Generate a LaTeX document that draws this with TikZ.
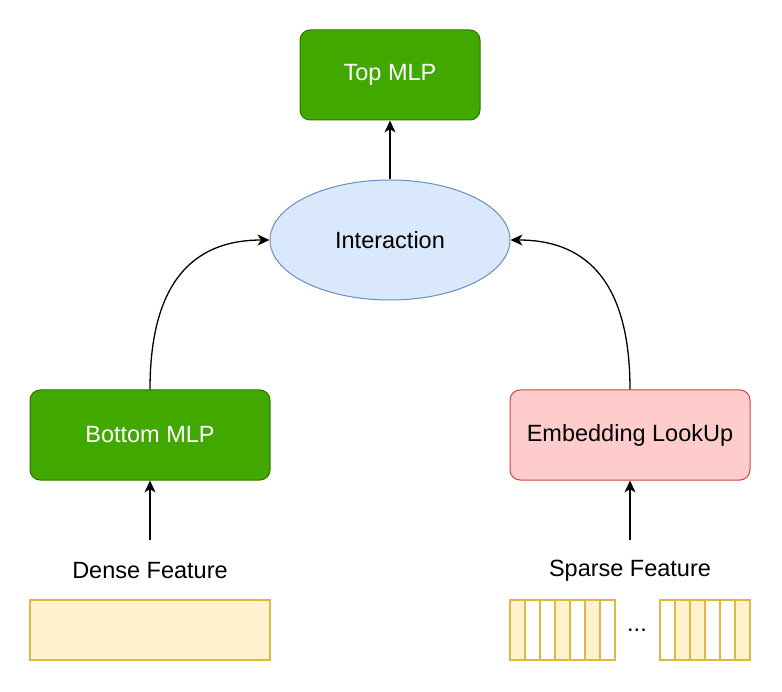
\documentclass[tikz,border=0pt]{standalone}
\usepackage{fontspec}
\setmainfont{Liberation Sans}
\usetikzlibrary{shapes.geometric,arrows.meta}
\definecolor{gfill}{HTML}{41A800}
\definecolor{gdraw}{HTML}{2D7600}
\definecolor{bfill}{HTML}{DAE8FC}
\definecolor{bdraw}{HTML}{6C8EBF}
\definecolor{rfill}{HTML}{FFCCCC}
\definecolor{rdraw}{HTML}{D04545}
\definecolor{yfill}{HTML}{FFF2CC}
\definecolor{ydraw}{HTML}{E0B840}
\begin{document}
\begin{tikzpicture}[x=1pt,y=-1pt,
  every node/.style={font=\fontsize{23.5}{27}\selectfont},
  greenbox/.style={draw=gdraw,fill=gfill,rounded corners=10pt,minimum width=240pt,minimum height=90pt,text=white,line width=1pt},
  conn/.style={line width=1.3pt,-{Stealth[length=12pt,width=11pt,inset=3.5pt]}},
  cellfill/.style={draw=ydraw,fill=yfill,line width=1.3pt},
  cellwhite/.style={draw=ydraw,fill=white,line width=1.3pt}]
\useasboundingbox (0,0) rectangle (782,692);
\node[greenbox,minimum width=180pt] (top) at (390,75) {Top MLP};
\node[ellipse,draw=bdraw,fill=bfill,minimum width=240pt,minimum height=120pt,line width=1pt] (inter) at (390,240) {Interaction};
\node[greenbox] (bot) at (150,435) {Bottom MLP};
\node[draw=rdraw,fill=rfill,rounded corners=10pt,minimum width=240pt,minimum height=90pt,line width=1pt] (emb) at (630,435) {Embedding LookUp};
\node (dense) at (150,571) {Dense Feature};
\node (sparse) at (630,571) {Sparse Feature};
\coordinate (dsrc) at (150,540);
\coordinate (ssrc) at (630,540);
\node[cellfill,minimum width=240pt,minimum height=60pt,inner sep=0pt] (drect) at (150,630) {};
% sparse cells
\foreach \x/\s in {510/cellfill,525/cellwhite,540/cellwhite,555/cellfill,570/cellwhite,585/cellfill,600/cellwhite,660/cellwhite,675/cellfill,690/cellfill,705/cellwhite,720/cellwhite,735/cellfill}{
  \draw[\s] (\x,600) rectangle ++(15,60);
}
\node (dots) at (637,630) {...};
\draw[conn] (inter.north) -- (top.south);
\draw[conn] (bot.north) .. controls (150,300) and (180,240) .. (inter.west);
\draw[conn] (emb.north) .. controls (630,300) and (600,240) .. (inter.east);
\draw[conn] (dsrc) -- (bot.south);
\draw[conn] (ssrc) -- (emb.south);
\end{tikzpicture}
\end{document}
